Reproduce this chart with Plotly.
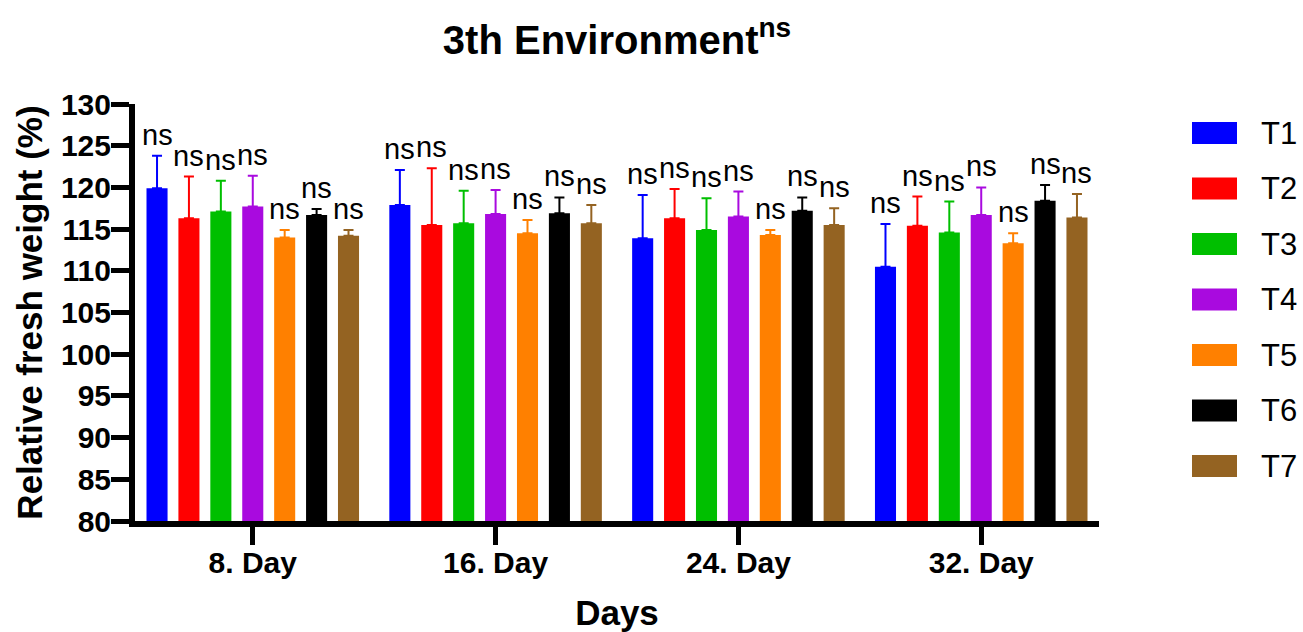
import plotly.graph_objects as go

days = ["8. Day", "16. Day", "24. Day", "32. Day"]
treatments = ["T1", "T2", "T3", "T4", "T5", "T6", "T7"]
colors = ["#0000FF", "#FF0000", "#00BF00", "#A90ADF", "#FF8000", "#000000", "#946322"]

# mean values per treatment (across days)
T1 = [119.9, 117.9, 113.9, 110.5]
T2 = [116.3, 115.5, 116.3, 115.4]
T3 = [117.1, 115.7, 114.9, 114.6]
T4 = [117.7, 116.8, 116.5, 116.7]
T5 = [114.0, 114.5, 114.3, 113.3]
T6 = [116.7, 116.9, 117.2, 118.4]
T7 = [114.2, 115.7, 115.5, 116.4]

# upper error (SD)
E1 = [3.9, 4.2, 5.2, 5.1]
E2 = [5.0, 6.8, 3.5, 3.5]
E3 = [3.7, 3.9, 3.8, 3.7]
E4 = [3.7, 2.9, 3.0, 3.3]
E5 = [0.9, 1.6, 0.6, 1.2]
E6 = [0.7, 1.9, 1.6, 1.9]
E7 = [0.7, 2.2, 2.0, 2.8]

means = [T1, T2, T3, T4, T5, T6, T7]
errs = [E1, E2, E3, E4, E5, E6, E7]
sig = "ns"

FONT = "Liberation Sans, Arial, sans-serif"
bargap = 0.08
n = len(treatments)
xs = list(range(len(days)))

fig = go.Figure()
for name, col, m, e in zip(treatments, colors, means, errs):
    fig.add_trace(go.Bar(
        x=xs, y=m, name=name, marker=dict(color=col, line=dict(width=0)),
        error_y=dict(type="data", symmetric=False, array=e, arrayminus=[0] * len(e),
                     color=col, thickness=2, width=5),
        showlegend=False,
    ))

annotations = []
for i, (m, e) in enumerate(zip(means, errs)):
    for g in xs:
        xc = g + ((i + 0.5) / n - 0.5) * (1 - bargap)
        annotations.append(dict(
            x=xc, y=m[g] + e[g], xref="x", yref="y", text=sig, showarrow=False,
            yanchor="bottom", xanchor="center", yshift=3,
            font=dict(family=FONT, size=29, color="black"),
        ))

# custom legend (large swatches)
W, H = 1303, 632
L, R, T, B = 135, 204, 104, 111
pw, ph = W - L - R, H - T - B
shapes = []
for i, (name, col) in enumerate(zip(treatments, colors)):
    cy = 133 + 55.5 * i
    ypap = (H - B - cy) / ph
    shapes.append(dict(type="rect", xref="paper", yref="paper",
                       xsizemode="pixel", ysizemode="pixel",
                       xanchor=1, yanchor=ypap,
                       x0=1192 - (W - R), x1=1237 - (W - R), y0=-11, y1=11,
                       fillcolor=col, line=dict(width=0)))
    annotations.append(dict(x=(1259 - L) / pw, y=ypap, xref="paper", yref="paper",
                            text=name, showarrow=False, xanchor="left", yanchor="middle",
                            font=dict(family=FONT, size=31, color="black")))

fig.update_layout(
    width=W, height=H,
    margin=dict(l=L, r=R, t=T, b=B, autoexpand=False),
    plot_bgcolor="white", paper_bgcolor="white",
    barmode="group", bargap=bargap, bargroupgap=0.34,
    title=dict(text="<b>3th Environment<sup>ns</sup></b>", x=617 / W, xanchor="center",
               y=1 - 40 / H, yanchor="middle",
               font=dict(family=FONT, size=40, color="black")),
    xaxis=dict(
        tickmode="array", tickvals=xs, ticktext=days, range=[-0.485, 3.485],
        showline=True, linewidth=6, linecolor="black",
        ticks="outside", ticklen=18, tickwidth=5, tickcolor="black",
        ticklabelstandoff=-8,
        tickfont=dict(family=FONT, size=30, color="black", weight="bold"),
        showgrid=False, zeroline=False, automargin=False,
        title=dict(text="<b>Days</b>", standoff=26,
                   font=dict(family=FONT, size=35, color="black")),
    ),
    yaxis=dict(
        range=[80, 130], dtick=5, tick0=80,
        showline=True, linewidth=6, linecolor="black",
        ticks="outside", ticklen=18, tickwidth=5, tickcolor="black",
        ticklabelstandoff=-6,
        tickfont=dict(family=FONT, size=30, color="black", weight="bold"),
        showgrid=False, zeroline=False, automargin=False,
        title=dict(text="<b>Relative fresh weight (%)</b>", standoff=10,
                   font=dict(family=FONT, size=35, color="black")),
    ),
    annotations=annotations,
    shapes=shapes,
)

fig.write_html("out.html")
